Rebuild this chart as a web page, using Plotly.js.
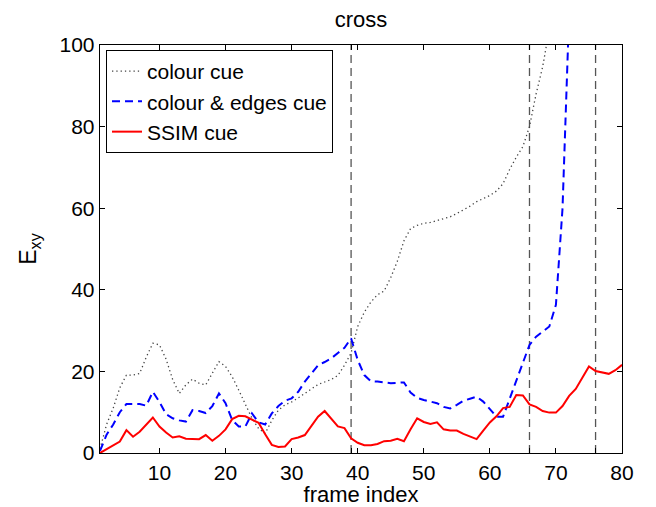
<!DOCTYPE html>
<html>
<head>
<meta charset="utf-8">
<script src="https://cdn.plot.ly/plotly-3.0.1.min.js"></script>
<style>html,body{margin:0;padding:0;background:#fff;}#plot{width:656px;height:507px;}</style>
</head>
<body>
<div id="plot"></div>
<script>
// frame indices
var frames = [];
for (var i = 1; i <= 80; i++) frames.push(i);

// colour cue (dotted black)
var colourCue = [1,7,11,16,19.1,19.1,19.5,23.5,26.9,26.5,
  23,18,14.6,16.7,18.1,17.1,16.7,19.5,22.4,21.2,
  18.7,15.4,12,8.5,6,4.8,8,10.5,11.8,12.5,
  13.5,14.6,15.7,16.8,17.4,18,19,21.5,24.5,31,
  34.5,37,38.8,39.7,43,47,52,55,55.8,56.3,
  56.5,57,57.4,57.9,58.7,59.5,60.5,61.6,62.3,63.1,
  64.2,66,69.5,72.5,75.1,80,88,94.7,104];

// colour & edges cue (dashed blue)
var colourEdgesCue = [0.5,4.5,7,10,12,12,12,11.6,15,12.5,
  9.5,8.5,8,7.7,10.5,10.3,9.8,11.5,14.6,12.2,
  8.1,6.5,6.5,9.7,7.5,7,9.7,11.5,12.8,13.4,
  15,17.5,19.5,21.5,22.3,23.2,24.5,25.8,28.1,22.8,
  19.1,17.6,17.5,17.3,17.1,17.2,17.3,14.8,13.5,13,
  12.6,12.2,11.3,10.9,11.8,12.8,13.3,13.8,12.6,10.8,
  8.9,8.9,13.4,18,22,26.5,28.5,29.8,31,36.3,
  60,108];

// SSIM cue (solid red)
var ssimCue = [0,1.0,2.0,2.8,5.6,4.0,5.2,6.9,8.7,6.5,
  5.0,3.8,4.1,3.5,3.5,3.4,4.4,3.0,4.2,5.8,
  8.3,9.1,9.0,8.3,7.4,4.6,2.0,1.5,1.6,3.4,
  3.8,4.4,6.6,8.9,10.3,8.5,6.5,6.1,3.6,2.5,
  1.9,1.9,2.2,2.9,3.0,3.5,2.9,5.8,8.5,7.6,
  7.1,7.5,5.8,5.5,5.5,4.7,4.0,3.4,5.5,7.5,
  9.0,11.0,11.3,14.2,14.1,11.9,11.3,10.3,9.9,9.9,
  11.5,14.0,15.7,18.5,21.2,20.1,19.7,19.4,20.3,21.6];

// event markers (vertical dashed lines)
var eventFrames = [39, 66, 76];

var xTickVals = [10,20,30,40,50,60,70,80];
var yTickVals = [0,20,40,60,80,100];

var font = 'Liberation Sans, Arial, sans-serif';

var traces = [
  {x: frames.slice(0, colourCue.length), y: colourCue, type: 'scatter', mode: 'lines',
   name: 'colour cue', line: {color: '#444444', width: 1.3, dash: '1.3px,3px'}},
  {x: frames.slice(0, colourEdgesCue.length), y: colourEdgesCue, type: 'scatter', mode: 'lines',
   name: 'colour &amp; edges cue', line: {color: '#0000ff', width: 2, dash: '8px,5px'}},
  {x: frames, y: ssimCue, type: 'scatter', mode: 'lines',
   name: 'SSIM cue', line: {color: '#ff0000', width: 2}}
];

var shapes = eventFrames.map(function (f) {
  return {type: 'line', xref: 'x', yref: 'paper', x0: f, x1: f, y0: 0, y1: 1,
          line: {color: '#555555', width: 1.3, dash: '8px,5px'}, layer: 'below'};
});

var allTicks = xTickVals.concat(eventFrames);
var allText = xTickVals.map(String).concat(eventFrames.map(function(){return '';}));

var layout = {
  width: 656, height: 507,
  margin: {l: 100, r: 34, t: 45, b: 54},
  paper_bgcolor: '#ffffff', plot_bgcolor: '#ffffff',
  font: {family: font, color: '#000', size: 21},
  title: {text: 'cross', font: {family: font, size: 22, color: '#000'},
          x: 0.5, xref: 'paper', xanchor: 'center', y: 1 - 19/507, yref: 'container', yanchor: 'middle'},
  xaxis: {range: [1, 80], tickvals: allTicks, ticktext: allText,
          ticks: 'inside', ticklen: 5, tickcolor: '#000', tickwidth: 1,
          showline: true, linecolor: '#000', linewidth: 1.3, mirror: 'allticks',
          showgrid: false, zeroline: false,
          tickfont: {family: font, size: 21, color: '#000'},
          title: {text: 'frame index', font: {family: font, size: 22, color: '#000'}, standoff: 0}},
  yaxis: {range: [0, 100], tickvals: yTickVals,
          ticks: 'inside', ticklen: 5, tickcolor: '#000', tickwidth: 1,
          showline: true, linecolor: '#000', linewidth: 1.3, mirror: 'allticks',
          showgrid: false, zeroline: false,
          tickfont: {family: font, size: 21, color: '#000'},
          title: {text: 'E<sub>xy</sub>', font: {family: font, size: 23, color: '#000'}, standoff: 16}},
  legend: {x: 0.0115, y: 0.988, xanchor: 'left', yanchor: 'top',
           bgcolor: '#ffffff', bordercolor: '#000', borderwidth: 1,
           font: {family: font, size: 21, color: '#000'}, tracegroupgap: 0},
  shapes: shapes,
  showlegend: true
};

Plotly.newPlot('plot', traces, layout, {displayModeBar: false, staticPlot: true});
</script>
</body>
</html>
